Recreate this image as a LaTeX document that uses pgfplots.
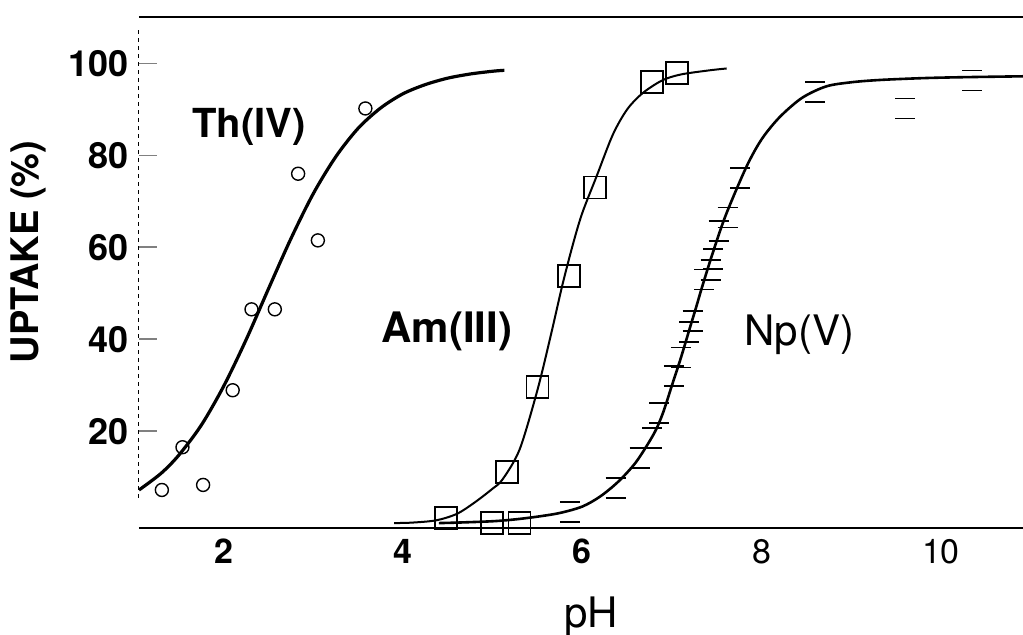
\documentclass[border=0pt]{standalone}
\usepackage{fontspec}
\setmainfont{TeX Gyre Heros}
\usepackage{pgfplots}
\pgfplotsset{compat=1.18}

% open square whose side walls are faded: only the top and bottom bars are drawn
\pgfdeclareplotmark{npbar}{%
  \pgfpathmoveto{\pgfqpoint{-\pgfplotmarksize}{\pgfplotmarksize}}%
  \pgfpathlineto{\pgfqpoint{\pgfplotmarksize}{\pgfplotmarksize}}%
  \pgfpathmoveto{\pgfqpoint{-\pgfplotmarksize}{-\pgfplotmarksize}}%
  \pgfpathlineto{\pgfqpoint{\pgfplotmarksize}{-\pgfplotmarksize}}%
  \pgfusepathqstroke
}

\begin{document}
\begin{tikzpicture}
\useasboundingbox (-69.5pt,-53.5pt) rectangle (442pt,264pt);
\begin{axis}[
  name=ax, at={(0,0)}, anchor=south west,
  scale only axis, width=442pt, height=255.5pt,
  xmin=1.055, xmax=10.915, ymin=-1.07, ymax=110.1,
  axis line style={draw=none},
  xtick={2,4,6,8,10},
  xticklabels={\textbf{2},\textbf{4},\textbf{6},8,10},
  ytick={20,40,60,80,100},
  xtick style={draw=none},
  ytick pos=left, xtick pos=bottom,
  tick align=inside,
  ytick style={line width=0.8pt},
  major tick length=9pt,
  /pgf/number format/assume math mode=true,
  yticklabel style={font=\fontsize{18}{21}\selectfont\bfseries, xshift=-1.5pt},
  xticklabel style={font=\fontsize{17}{20}\selectfont, yshift=-2pt},
]

% Th(IV) fitted curve and data
\addplot[black, line width=1.6pt, smooth, no markers] coordinates {
  (1.055,7.2) (1.3,10.8) (1.5,14.8) (1.75,21.3) (2.0,29.8) (2.25,39.9)
  (2.5,51.0) (2.75,61.9) (3.0,71.7) (3.25,79.7) (3.5,85.9) (3.75,90.3)
  (4.0,93.4) (4.25,95.4) (4.5,96.8) (4.75,97.7) (5.0,98.3) (5.13,98.5)
};
\addplot[black, only marks, mark=o, mark size=3.25pt, mark options={line width=0.7pt}] coordinates {
  (1.31,7.2) (1.77,8.3) (1.54,16.5) (2.10,28.9) (2.31,46.5) (2.57,46.5)
  (2.83,76) (3.05,61.5) (3.58,90.2)
};

% Am(III) fitted curve and data
\addplot[black, line width=1.0pt, smooth, no markers] coordinates {
  (3.9,0) (4.1,0.1) (4.37,0.6) (4.6,2) (4.8,4.5) (5.0,7.5) (5.11,9.5)
  (5.3,16) (5.5,29) (5.65,41) (5.78,52) (5.9,61) (6.0,67.5) (6.16,75.5)
  (6.34,84.5) (6.5,90) (6.67,93.5) (6.89,96.3) (7.1,97.6) (7.42,98.5)
  (7.61,98.9)
};
\addplot[black, only marks, mark=square, mark size=5.5pt, mark options={line width=0.9pt}] coordinates {
  (4.48,1.1) (4.99,0) (5.30,0) (5.16,11.1) (5.50,29.6) (5.85,53.8)
  (6.14,73) (6.78,95.9) (7.06,97.9)
};

% Np(V) fitted curve and data
\addplot[black, line width=1.3pt, smooth, no markers] coordinates {
  (4.4,0) (4.6,0.1) (5.0,0.4) (5.25,0.8) (5.5,1.4) (5.75,2.2) (6.0,3.6)
  (6.2,5.8) (6.4,9.0) (6.6,13.3) (6.8,19.5) (6.9,24) (7.0,30) (7.1,36)
  (7.2,42.5) (7.27,47) (7.33,51) (7.45,58.5) (7.6,67) (7.83,77.5)
  (8.0,83.5) (8.2,88.3) (8.45,92.5) (8.72,95) (9.0,95.9) (9.32,96.4)
  (9.8,96.8) (10.24,97) (10.92,97.2)
};
\addplot[black, only marks, mark=npbar, mark size=5pt, mark options={line width=0.9pt}] coordinates {
  (5.86,2.4) (6.37,7.6) (6.64,14.1) (6.78,18.5) (6.86,24) (7.02,32)
  (7.10,36) (7.19,41.5) (7.23,44) (7.36,53) (7.43,55) (7.46,57.5)
  (7.52,63.5) (7.62,66.5) (7.76,75) (8.60,93.7) (9.60,90.2) (10.35,96.3)
  (10.92,97.1)
};

\node[font=\fontsize{20}{24}\selectfont\bfseries] at (axis cs:2.28,86.2) {Th(IV)};
\node[font=\fontsize{21}{24}\selectfont\bfseries] at (axis cs:4.49,41.6) {Am(III)};
\node[font=\fontsize{21}{24}\selectfont] at (axis cs:8.42,41) {Np(V)};
\end{axis}

% frame: solid bottom and top rules, faint broken left rule
\draw[line width=1.2pt] (0,0) -- (442pt,0);
\draw[line width=1pt] (0,255.5pt) -- (442pt,255.5pt);
\draw[line width=0.5pt, dash pattern=on 2pt off 2pt] (0,15pt) -- (0,250.5pt);

\node[rotate=90, font=\fontsize{19}{22}\selectfont\bfseries] at (-55.5pt,138pt) {UPTAKE (\%)};
\node[anchor=base, font=\fontsize{21}{24}\selectfont] at (226pt,-50pt) {pH};
\end{tikzpicture}
\end{document}
